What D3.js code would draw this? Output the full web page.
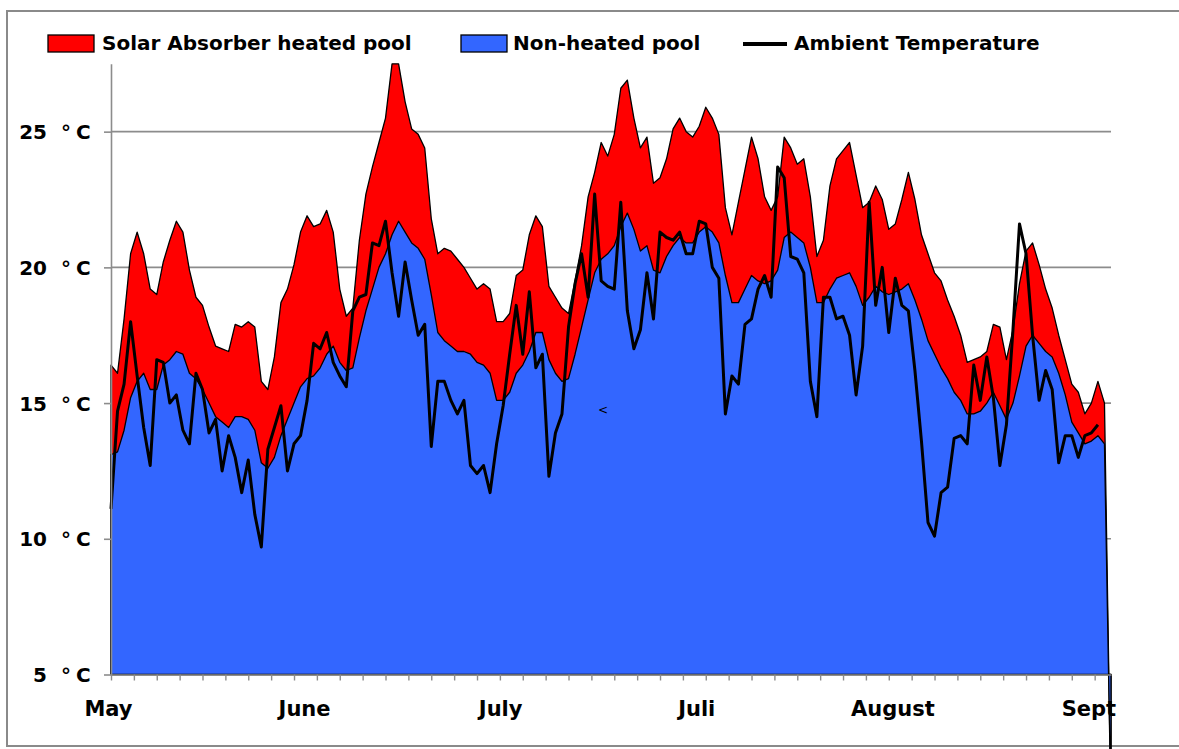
<!DOCTYPE html>
<html><head><meta charset="utf-8">
<script src="https://cdnjs.cloudflare.com/ajax/libs/d3/7.8.5/d3.min.js"></script>
<style>
html,body{margin:0;padding:0;background:#fff;overflow:hidden;}
svg{display:block;}
text{font-family:"DejaVu Sans",Verdana,sans-serif;font-weight:bold;fill:#000;}
</style></head><body>
<svg id="chart" width="1179" height="749"></svg>
<script>
// Daily temperatures (°C), one value per day; last value is the closing drop of the area series
const heated = [16.4,16.1,18.1,20.5,21.3,20.5,19.2,19.0,20.2,21.0,
21.7,21.3,19.9,18.9,18.6,17.8,17.1,17.0,16.9,17.9,
17.8,18.0,17.8,15.8,15.5,16.7,18.7,19.2,20.1,21.3,
21.9,21.5,21.6,22.1,21.3,19.2,18.2,18.5,21.0,22.7,
23.7,24.6,25.5,27.5,27.5,26.1,25.1,24.9,24.4,21.8,
20.5,20.7,20.6,20.3,20.0,19.6,19.2,19.4,19.2,18.0,
18.0,18.3,19.7,19.9,21.2,21.9,21.5,19.3,18.9,18.5,
18.3,19.5,20.8,22.6,23.5,24.6,24.1,24.9,26.6,26.9,
25.5,24.4,24.8,23.1,23.3,24.0,25.1,25.5,25.0,24.8,
25.2,25.9,25.5,24.9,22.2,21.2,22.4,23.6,24.8,24.0,
22.6,22.1,22.6,24.8,24.4,23.8,24.0,22.6,20.4,21.0,
23.0,24.0,24.3,24.6,23.4,22.2,22.4,23.0,22.5,21.4,
21.6,22.5,23.5,22.5,21.2,20.5,19.8,19.5,18.8,18.2,
17.5,16.5,16.6,16.7,16.9,17.9,17.8,16.6,17.7,19.4,
20.6,20.9,20.1,19.2,18.5,17.5,16.6,15.7,15.4,14.6,
15.0,15.8,15.0,0];

const nonHeated = [13.1,13.2,14.0,15.2,15.8,16.1,15.5,15.5,16.4,16.6,
16.9,16.8,16.1,15.9,15.5,15.0,14.5,14.3,14.1,14.5,
14.5,14.4,14.0,12.8,12.6,13.0,13.8,14.4,15.0,15.6,
15.9,16.0,16.3,16.8,17.1,16.5,16.2,16.3,17.4,18.4,
19.2,20.0,20.5,21.2,21.7,21.3,20.9,20.7,20.3,19.0,
17.6,17.3,17.1,16.9,16.9,16.8,16.5,16.4,16.1,15.1,
15.1,15.4,16.1,16.4,16.9,17.6,17.6,16.6,16.1,15.8,
15.9,16.8,17.8,18.8,19.8,20.3,20.5,20.8,21.5,22.0,
21.4,20.6,20.8,19.9,19.8,20.4,20.8,21.1,20.9,20.9,
21.3,21.5,21.3,20.9,19.7,18.7,18.7,19.2,19.7,19.5,
19.4,19.5,19.9,21.1,21.3,21.1,20.9,20.0,18.7,18.7,
19.2,19.6,19.7,19.8,19.3,18.6,18.9,19.3,19.1,19.0,
19.1,19.2,19.4,18.8,18.1,17.3,16.8,16.3,15.9,15.4,
15.1,14.6,14.6,14.7,15.0,15.4,14.9,14.4,15.0,16.0,
17.1,17.5,17.2,16.9,16.7,16.1,15.3,14.3,13.9,13.5,
13.6,13.8,13.5,0];

const ambient = [11.1,14.7,15.7,18.0,16.0,14.1,12.7,16.6,16.5,15.0,
15.3,14.0,13.5,16.1,15.5,13.9,14.4,12.5,13.8,13.0,
11.7,12.9,10.9,9.7,13.3,14.1,14.9,12.5,13.5,13.8,
15.1,17.2,17.0,17.6,16.5,16.0,15.6,18.4,18.9,19.0,
20.9,20.8,21.7,19.8,18.2,20.2,18.8,17.5,17.9,13.4,
15.8,15.8,15.1,14.6,15.1,12.7,12.4,12.7,11.7,13.5,
14.9,16.8,18.6,16.8,19.1,16.3,16.8,12.3,13.9,14.6,
17.8,19.4,20.5,18.9,22.7,19.5,19.3,19.2,22.4,18.4,
17.0,17.7,19.8,18.1,21.3,21.1,21.0,21.3,20.5,20.5,
21.7,21.6,20.0,19.6,14.6,16.0,15.7,17.9,18.1,19.2,
19.7,18.9,23.7,23.3,20.4,20.3,19.8,15.8,14.5,18.9,
18.9,18.1,18.2,17.5,15.3,17.1,22.4,18.6,20.0,17.6,
19.6,18.6,18.4,16.2,13.6,10.6,10.1,11.7,11.9,13.7,
13.8,13.5,16.4,15.1,16.7,15.2,12.7,14.2,17.7,21.6,
20.5,17.5,15.1,16.2,15.5,12.8,13.8,13.8,13.0,13.8,
13.9,14.2,null,null];

const monthLabels = ["May","June","July","Juli","August","Sept"];
const monthLabelIdx = [0,30,60,90,120,150];
const yTicks = [5,10,15,20,25];
const yTickUnit = "°C";
const seriesNames = ["Solar Absorber heated pool","Non-heated pool","Ambient Temperature"];
const seriesColors = ["#FF0000","#3366FF","#000000"];

const svg = d3.select("#chart");
const x = d3.scaleLinear().domain([0, heated.length - 1]).range([111, 1111]);
const y = d3.scaleLinear().domain([5, 27.5]).range([674.5, 63.8]);

// outer frame
svg.append("rect").attr("x",7).attr("y",11).attr("width",1300).attr("height",735)
  .attr("fill","none").attr("stroke","#8a8a8a").attr("stroke-width",2);

// gridlines
svg.append("g").selectAll("line").data(yTicks.filter(v=>v>5)).join("line")
  .attr("x1",x(0)).attr("x2",x(heated.length-1))
  .attr("y1",d=>y(d)).attr("y2",d=>y(d))
  .attr("stroke","#8c8c8c").attr("stroke-width",1.6);

const area = d3.area().x((d,i)=>x(i)).y0(y(5)).y1(d=>y(d));
svg.append("path").datum(heated).attr("d",area)
  .attr("fill",seriesColors[0]).attr("stroke","#000").attr("stroke-width",1.3).attr("stroke-linejoin","round");
svg.append("path").datum(nonHeated).attr("d",area)
  .attr("fill",seriesColors[1]).attr("stroke","#000").attr("stroke-width",1.3).attr("stroke-linejoin","round");

const line = d3.line().defined(d=>d!=null).x((d,i)=>x(i)).y(d=>y(d));
svg.append("path").datum(ambient).attr("d",line)
  .attr("fill","none").attr("stroke","#000").attr("stroke-width",3).attr("stroke-linejoin","round");

// stray glyph present in the original
svg.append("text").attr("x",598).attr("y",414).style("font-weight","normal").style("font-size","12px").text("<");

// y axis
const yAxis = d3.axisLeft(y).tickValues(yTicks).tickSize(7).tickSizeOuter(0).tickFormat("");
const gy = svg.append("g").attr("transform","translate(111,0)").call(yAxis);
gy.select(".domain").attr("stroke","#8c8c8c").attr("stroke-width",1.6);
gy.selectAll(".tick line").attr("stroke","#8c8c8c").attr("stroke-width",1.6);
gy.selectAll(".tick").each(function(d){
  const g = d3.select(this);
  g.append("text").attr("x",-64).attr("dy","0.36em").attr("text-anchor","end")
    .style("font-size","20px").text(d);
  g.append("text").attr("x",-50).attr("dy","0.36em").attr("text-anchor","start")
    .style("font-size","20px").text(yTickUnit[0]);
  g.append("text").attr("x",-35).attr("dy","0.36em").attr("text-anchor","start")
    .style("font-size","20px").text(yTickUnit[1]);
});

// x axis ticks
const tickIdx = d3.range(0, 44).map(k=>k*3.5);
const xAxis = d3.axisBottom(x).tickValues(tickIdx).tickSize(6).tickSizeOuter(0).tickFormat("");
const gx = svg.append("g").attr("transform","translate(0,674.5)").call(xAxis);
gx.select(".domain").attr("stroke","#8c8c8c").attr("stroke-width",1.6);
gx.selectAll(".tick line").attr("stroke","#8c8c8c").attr("stroke-width",1.4);

// x labels
const xLab = d3.axisBottom(x).tickValues(monthLabelIdx).tickSize(0).tickPadding(27)
  .tickFormat((d,i)=>monthLabels[i]);
const gxl = svg.append("g").attr("transform","translate(-3,674.5)").call(xLab);
gxl.select(".domain").remove();
gxl.selectAll(".tick text").style("font-size","21px").style("font-family","DejaVu Sans").style("font-weight","bold").attr("fill","#000");

// legend
const leg = svg.append("g");
const legX = [48, 461, 743];
const legTextX = [102, 513, 794];
[0,1].forEach(i=>{
  leg.append("rect").attr("x",legX[i]).attr("y",35).attr("width",46).attr("height",17)
    .attr("fill",seriesColors[i]).attr("stroke","#000").attr("stroke-width",1.3);
});
leg.append("line").attr("x1",legX[2]).attr("x2",787).attr("y1",44).attr("y2",44)
  .attr("stroke","#000").attr("stroke-width",4);
seriesNames.forEach((n,i)=>{
  leg.append("text").attr("x",legTextX[i]).attr("y",50).style("font-size","20px").text(n);
});
</script>
</body></html>
